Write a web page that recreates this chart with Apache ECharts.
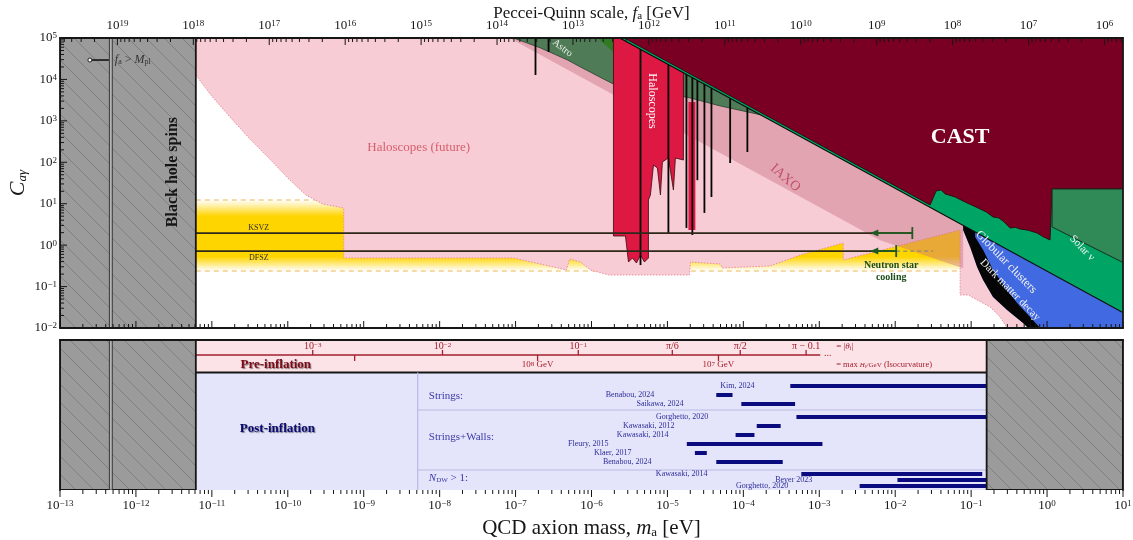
<!DOCTYPE html>
<html>
<head>
<meta charset="utf-8">
<title>QCD axion – photon coupling</title>
<script src="https://cdn.jsdelivr.net/npm/echarts@6.0.0/dist/echarts.min.js"></script>
<style>
  html, body { margin: 0; padding: 0; background: #ffffff; }
  #chart { width: 1133px; height: 540px; }
</style>
</head>
<body>
<div id="chart"></div>
<script>
// ---------------------------------------------------------------- axes
const massRange = [1e-13, 10];          // m_a [eV]
const couplingRange = [1e-2, 1e5];      // C_aγ
const rowRange = [0, 15];               // rows of the cosmology panel, top to bottom
const faTimesMass = 5.7e6;              // f_a [GeV] × m_a [eV]
const planckMass = 1.22e19;             // GeV

const massTickExponents = [-13, -12, -11, -10, -9, -8, -7, -6, -5, -4, -3, -2, -1, 0, 1];
const couplingTickExponents = [-2, -1, 0, 1, 2, 3, 4, 5];
const faTickExponents = [6, 7, 8, 9, 10, 11, 12, 13, 14, 15, 16, 17, 18, 19];

// ------------------------------------------------- upper panel (C_aγ vs m_a)
// Contours are listed as [log10 m_a/eV, log10 C_aγ].
const blackHoleSpinMaxMass = 6.15e-12;
const hotDarkMatterMinMass = 0.16;

const futureHaloscopes = [
  [-11.211, 5], [-0.303, 5], [-0.303, -2], [-0.526, -2], [-0.618, -1.734], [-0.75, -1.493],
  [-1.039, -1.203], [-1.145, -1.203], [-1.145, 0.366], [-2.684, -0.358], [-2.684, 0.052],
  [-3.25, -0.238], [-3.645, -0.503], [-4.276, -0.551], [-4.303, -0.455], [-4.697, -0.407],
  [-4.711, -0.72], [-5.776, -0.72], [-6.013, -0.6], [-6.145, -0.407], [-6.289, -0.334],
  [-6.329, -0.6], [-7.026, -0.31], [-9.263, -0.31], [-9.263, 0.897], [-9.539, 0.993],
  [-9.763, 1.21], [-10.0, 1.621], [-10.224, 2.055], [-10.487, 2.538], [-10.75, 3.069],
  [-11.013, 3.624], [-11.211, 4.107]
];

const qcdBandMass = [6.15e-12, 0.083];
const qcdBandCoupling = [0.238, 12.3];
const ksvzCoupling = 1.96;
const dfszCoupling = 0.72;
const ksvzStarLimit = 0.0168;
const dfszStarLimit = 0.0103;
const starArrowEnd = 4.7e-3;
const dfszDashedEnd = 0.0316;

const iaxo = [[-7.08, 5], [-2.2, 0.12], [-1.118, -0.551], [-1.105, -0.551], [-1.105, 0.476], [-5.629, 5]];

const astro = [
  [-7.026, 5], [-5.629, 5], [-3.776, 3.147], [-4.303, 3.359], [-4.697, 3.552], [-5.224, 3.745],
  [-5.711, 3.89], [-5.816, 3.986], [-6.145, 4.3], [-6.316, 4.469], [-6.671, 4.759]
];
const astroExtra = [[-5.921, 5], [-5.711, 5], [-5.711, 4.662]];

const haloscopes = [
  [-5.711, 5], [-4.789, 5], [-4.789, 2.055], [-4.895, 2.104], [-4.921, 1.331], [-4.987, 2.104],
  [-5.066, 2.007], [-5.092, 1.211], [-5.132, 1.862], [-5.184, 1.935], [-5.224, 1.211],
  [-5.25, 1.09], [-5.25, -0.31], [-5.303, -0.407], [-5.355, -0.238], [-5.408, -0.431],
  [-5.461, -0.31], [-5.513, -0.407], [-5.553, 0.221], [-5.711, 0.221]
];
const haloscopeColumn = [[-4.724, 3.455], [-4.632, 3.455], [-4.632, 0.366], [-4.724, 0.366]];

// narrow resonant exclusions: [m_a, lowest C_aγ reached]
const spikeMass = [1.83e-7, 2.72e-7, 4.42e-6, 1.03e-5, 1.78e-5, 2.13e-5, 2.48e-5, 3.07e-5, 3.8e-5, 6.7e-5, 1.13e-4, 2.72, 3.98, 5.3];
const spikeFloor = [1.28e4, 4.6e4, 0.33, 1.96, 2.6, 1.76, 37, 6.0, 14.5, 96, 177, 0.01, 0.01, 0.01];

const globularClusters = [[-5.629, 5], [1.013, 5], [1.013, -1.642]];
const cast = [
  [-5.569, 5], [-1.54, 0.971], [-1.461, 1.307], [-1.395, 1.331], [-1.342, 1.235], [-1.211, 1.162],
  [-1.053, 1.017], [-0.96, 0.94], [-0.882, 0.873], [-0.80, 0.80], [-0.711, 0.679], [-0.64, 0.66],
  [-0.579, 0.583], [-0.487, 0.414], [-0.42, 0.43], [-0.355, 0.39], [-0.25, 0.36], [-0.132, 0.293],
  [-0.05, 0.2], [0.039, 0.124], [0.066, 1.355], [1.013, 1.355], [1.013, 5]
];
const solarNu = [[0.066, 1.355], [1.013, 1.355], [1.013, -0.431], [0.066, 0.438]];
const darkMatterDecay = [
  [-1.105, 0.476], [1.013, -1.642], [1.013, -2], [-0.25, -2], [-0.316, -1.879], [-0.526, -1.565],
  [-0.711, -1.251], [-0.842, -0.841], [-0.921, -0.527], [-1.013, -0.045], [-1.105, 0.366]
];
const darkMatterEdge = [
  [-1.105, 0.476], [-1.105, 0.366], [-1.013, -0.045], [-0.921, -0.527], [-0.842, -0.841],
  [-0.711, -1.251], [-0.526, -1.565], [-0.316, -1.879], [-0.25, -2], [-0.092, -2], [-0.224, -1.734],
  [-0.395, -1.396], [-0.526, -1.083], [-0.711, -0.6], [-0.842, -0.117], [-0.947, 0.197], [-0.947, 0.318]
];

// ---------------------------------------------- lower panel (cosmology)
const preInflationRows = [0, 3.25];
const postInflationRows = [3.25, 15];
const thetaMass = [2.13e-10, 1.09e-8, 6.7e-7, 1.16e-5, 9.1e-5, 6.7e-4];
const thetaLabels = ['10{s|−3}', '10{s|−2}', '10{s|−1}', 'π/6', 'π/2', 'π − 0.1'];
const hubbleMass = [7.6e-10, 1.95e-7, 4.7e-5];
const hubbleLabels = ['', '10{s|8} GeV', '10{s|7} GeV'];
const thetaAxisEnd = 1.03e-3;
const rulerNoteMass = 1.67e-3;

const groupNames = ['Strings:', 'Strings+Walls:', '{i|N}{sub|DW} > 1:'];
const groupRows = [5.6, 9.7, 13.8];
const groupDividerRows = [7.0, 13.0];
const groupColumnMass = 5.14e-9;

const simNames = ['Kim, 2024', 'Benabou, 2024', 'Saikawa, 2024', 'Gorghetto, 2020', 'Kawasaki, 2012',
  'Kawasaki, 2014', 'Fleury, 2015', 'Klaer, 2017', 'Benabou, 2024', 'Kawasaki, 2014', 'Beyer 2023', 'Gorghetto, 2020'];
const simRows = [4.6, 5.5, 6.4, 7.7, 8.6, 9.5, 10.4, 11.3, 12.2, 13.4, 14.0, 14.6];
const simLow = [4.15e-4, 4.4e-5, 9.4e-5, 5.0e-4, 1.5e-4, 7.9e-5, 1.8e-5, 2.3e-5, 4.4e-5, 5.8e-4, 1.07e-2, 3.4e-3];
const simHigh = [0.16, 7.2e-5, 4.8e-4, 0.16, 3.1e-4, 1.4e-4, 1.1e-3, 3.3e-5, 3.3e-4, 0.14, 0.16, 0.16];
const simLabelAt = [1.4e-4, 6.7e-6, 1.63e-5, 3.46e-5, 1.24e-5, 1.03e-5, 1.67e-6, 3.36e-6, 6.15e-6, 3.36e-5, 8.1e-4, 3.9e-4];

// ---------------------------------------------------------------- style
const SERIF = '"Liberation Serif", "DejaVu Serif", serif';
const INK = '#161616';

const pow10 = p => [Math.pow(10, p[0]), Math.pow(10, p[1])];

function hatchPattern() {
  const s = 18;
  const c = document.createElement('canvas');
  c.width = s; c.height = s;
  const g = c.getContext('2d');
  g.fillStyle = '#9b9b9b';
  g.fillRect(0, 0, s, s);
  g.strokeStyle = '#777777';
  g.lineWidth = 0.8;
  g.beginPath();
  for (const o of [-s, 0, s]) { g.moveTo(o, 0); g.lineTo(o + s, s); }
  g.stroke();
  return { image: c, repeat: 'repeat' };
}
const HATCH = hatchPattern();

function axesFor(grid) {
  return grid === 0 ? { xAxisIndex: 0, yAxisIndex: 0 } : { xAxisIndex: 2, yAxisIndex: 2 };
}

// a filled outline drawn through the axes of one panel
function region(id, grid, z, points, style) {
  return Object.assign({
    id, type: 'custom', coordinateSystem: 'cartesian2d', z, silent: true, clip: true,
    data: [points[0]],
    renderItem: (params, api) => ({
      type: 'polygon',
      shape: { points: points.map(p => api.coord(p)) },
      style: Object.assign({}, style)
    })
  }, axesFor(grid));
}

// free drawing through the axes of one panel
function drawing(id, grid, z, build, clip) {
  return Object.assign({
    id, type: 'custom', coordinateSystem: 'cartesian2d', z, silent: true, clip: !!clip,
    data: [[1e-5, grid === 0 ? 1 : 5]],
    renderItem: (params, api) => ({ type: 'group', children: build(api) })
  }, axesFor(grid));
}

const seg = (a, b, style) => ({ type: 'line', shape: { x1: a[0], y1: a[1], x2: b[0], y2: b[1] }, style });
const label = (at, text, style, rotation) => ({
  type: 'text', x: at[0], y: at[1], rotation: rotation || 0,
  style: Object.assign({ text, fontFamily: SERIF, fill: INK, align: 'center', verticalAlign: 'middle' }, style)
});
const supRich = { s: { fontSize: 9, fontFamily: SERIF, verticalAlign: 'top', fill: INK } };
const decadeText = e => '10{s|' + (e < 0 ? '−' + (-e) : e) + '}';

// --------------------------------------------------------- upper panel
const upperBlackHole = region('bhTop', 0, 30, [[massRange[0], couplingRange[0]], [blackHoleSpinMaxMass, couplingRange[0]],
  [blackHoleSpinMaxMass, couplingRange[1]], [massRange[0], couplingRange[1]]], { fill: HATCH, stroke: INK, lineWidth: 1.8 });

const planckLine = grid => drawing('planck' + grid, grid, 31, api => {
  const m = faTimesMass / planckMass;
  const yr = grid === 0 ? couplingRange : rowRange;
  const a = api.coord([m / 1.045, yr[0]]), b = api.coord([m * 1.045, yr[1]]);
  return [{ type: 'rect', shape: { x: a[0], y: Math.min(a[1], b[1]), width: b[0] - a[0], height: Math.abs(b[1] - a[1]) },
    style: { fill: '#b4b4b4', stroke: '#2b2b2b', lineWidth: 0.9 } }];
}, true);

const bandSeries = drawing('qcdBand', 0, 2, api => {
  const a = api.coord([qcdBandMass[0], qcdBandCoupling[1]]);
  const b = api.coord([qcdBandMass[1], qcdBandCoupling[0]]);
  const grad = new echarts.graphic.LinearGradient(0, 0, 0, 1, [
    { offset: 0, color: 'rgba(255,212,0,0)' }, { offset: 0.23, color: '#ffd500' },
    { offset: 0.8, color: '#ffd500' }, { offset: 1, color: 'rgba(255,212,0,0)' }]);
  const dash = { stroke: '#f3cf8c', lineWidth: 1.4, lineDash: [5, 4] };
  return [
    { type: 'rect', shape: { x: a[0], y: a[1], width: b[0] - a[0], height: b[1] - a[1] }, style: { fill: grad } },
    seg([a[0], a[1]], [b[0], a[1]], dash),
    seg([a[0], b[1]], [b[0], b[1]], dash)
  ];
}, true);

const pinkSeries = region('futureHaloscopes', 0, 3, futureHaloscopes.map(pow10),
  { fill: '#f7ccd5', stroke: '#ec8c9e', lineWidth: 1, lineDash: [1.5, 1.5], blend: 'multiply' });
const iaxoSeries = region('iaxo', 0, 4, iaxo.map(pow10), { fill: 'rgba(200,110,130,0.42)' });
const astroSeries = region('astro', 0, 5, astro.map(pow10), { fill: '#4f7b56', stroke: '#24402a', lineWidth: 0.8 });
const astroExtraSeries = region('astroExtra', 0, 5, astroExtra.map(pow10), { fill: '#2f7a22' });
const haloSeries = region('haloscopes', 0, 6, haloscopes.map(pow10), { fill: '#dc1843', stroke: '#3a0a10', lineWidth: 0.8 });
const haloColumnSeries = region('haloscopeColumn', 0, 6, haloscopeColumn.map(pow10), { fill: '#dc1843' });

const spikeSeries = drawing('spikes', 0, 7, api => spikeMass.map((m, i) =>
  seg(api.coord([m, couplingRange[1]]), api.coord([m, spikeFloor[i]]), { stroke: '#050505', lineWidth: 1.8 })), true);

const gcSeries = region('globularClusters', 0, 8, globularClusters.map(pow10), { fill: '#00a566' });
const gcEdge = drawing('gcEdge', 0, 12, api => [seg(api.coord(pow10(globularClusters[0])), api.coord(pow10(globularClusters[2])),
  { stroke: '#0a0a0a', lineWidth: 1.1 })], true);
const castSeries = region('cast', 0, 9, cast.map(pow10), { fill: '#7a0023', stroke: '#2a0008', lineWidth: 0.8 });
const solarSeries = region('solar', 0, 10, solarNu.map(pow10), { fill: '#2f8a57', stroke: '#14301e', lineWidth: 1 });
const dmSeries = region('dmDecay', 0, 10, darkMatterDecay.map(pow10), { fill: '#4169e1' });
const dmEdgeSeries = region('dmEdge', 0, 11, darkMatterEdge.map(pow10), { fill: '#050505' });

const qcdLines = drawing('qcdLines', 0, 13, api => {
  const line = { stroke: '#2e2818', lineWidth: 1.8 };
  const green = { stroke: '#1f5a1f', lineWidth: 1.8 };
  const out = [
    seg(api.coord([qcdBandMass[0], ksvzCoupling]), api.coord([ksvzStarLimit, ksvzCoupling]), line),
    seg(api.coord([qcdBandMass[0], dfszCoupling]), api.coord([dfszStarLimit, dfszCoupling]), line),
    seg(api.coord([dfszStarLimit, dfszCoupling]), api.coord([dfszDashedEnd, dfszCoupling]), { stroke: '#8d8a70', lineWidth: 1.2, lineDash: [4, 3] })
  ];
  [[ksvzStarLimit, ksvzCoupling], [dfszStarLimit, dfszCoupling]].forEach(([m, c]) => {
    const p = api.coord([m, c]), q = api.coord([starArrowEnd, c]);
    out.push(seg([p[0], p[1] - 6], [p[0], p[1] + 6], green));
    out.push(seg(p, [q[0] + 6, q[1]], green));
    out.push({ type: 'polygon', shape: { points: [[q[0], q[1]], [q[0] + 8, q[1] - 3.5], [q[0] + 8, q[1] + 3.5]] }, style: { fill: '#1f5a1f' } });
  });
  return out;
}, true);

const upperText = drawing('upperText', 0, 40, api => {
  const c = (m, v) => api.coord([m, v]);
  const white = '#ffffff';
  const pl = c(faTimesMass / planckMass, 2.94e4);
  const tail = c(2.33e-13, 2.94e4);
  return [
    label(c(0.0716, 407), 'CAST', { fontSize: 22, fontWeight: 'bold', fill: white }),
    label(c(5.3e-9, 221), 'Haloscopes (future)', { fontSize: 13, fill: '#d4606f' }),
    label(c(3.57e-4, 41.8), 'IAXO', { fontSize: 14, fill: '#c24f66' }, -0.72),
    label(c(6.35e-6, 3010), 'Haloscopes', { fontSize: 12, fill: white }, -Math.PI / 2),
    label(c(4.15e-7, 5.7e4), 'Astro', { fontSize: 10, fill: '#eef2ee' }, -0.65),
    label(c(0.289, 0.39), 'Globular clusters', { fontSize: 12, fill: '#f2f2f2' }, -0.8),
    label(c(0.326, 0.083), 'Dark matter decay', { fontSize: 11, fill: '#f2f2f2' }, -0.8),
    label(c(2.89, 0.85), 'Solar ν', { fontSize: 11, fill: '#f2f2f2' }, -0.8),
    label(c(8.85e-3, 0.33), 'Neutron star', { fontSize: 10, fontWeight: 'bold', fill: '#1d4d1d' }),
    label(c(8.85e-3, 0.17), 'cooling', { fontSize: 10, fontWeight: 'bold', fill: '#1d4d1d' }),
    label(c(4.15e-11, 2.6), 'KSVZ', { fontSize: 8, fill: '#2a2a2a' }),
    label(c(4.15e-11, 0.49), 'DFSZ', { fontSize: 8, fill: '#2a2a2a' }),
    label(c(3.07e-12, 58), 'Black hole spins', { fontSize: 16, fontWeight: 'bold', fill: INK }, Math.PI / 2),
    label([pl[0] + 4, pl[1]], '{i|f}{sub|a} > {i|M}{sub|pl}', { fontSize: 12, fill: '#333', align: 'left',
      rich: { i: { fontStyle: 'italic', fontSize: 12, fontFamily: SERIF, fill: '#333' },
              sub: { fontSize: 8, fontFamily: SERIF, fill: '#333', verticalAlign: 'bottom' } } }),
    seg([pl[0] - 2, pl[1]], [tail[0] + 3, tail[1]], { stroke: '#222', lineWidth: 1.8 }),
    { type: 'circle', shape: { cx: tail[0] + 2, cy: tail[1], r: 2 }, style: { fill: '#fff', stroke: '#222', lineWidth: 1 } }
  ];
}, true);

// ticks and tick labels of the upper panel
const upperFrame = drawing('upperFrame', 0, 60, api => {
  const out = [];
  const tick = { stroke: INK, lineWidth: 1 };
  const yTop = api.coord([1, couplingRange[1]])[1];
  const yBot = api.coord([1, couplingRange[0]])[1];
  const xLeft = api.coord([massRange[0], 1])[0];
  const inMass = m => m >= massRange[0] * 0.999 && m <= massRange[1] * 1.001;
  massTickExponents.forEach(e => {
    for (let k = 1; k <= 9; k++) {
      const m = k * Math.pow(10, e);
      if (!inMass(m)) continue;
      const x = api.coord([m, 1])[0];
      out.push(seg([x, yBot], [x, yBot - (k === 1 ? 7 : 4)], tick));
    }
  });
  [5].concat(faTickExponents).forEach(e => {
    for (let k = 1; k <= 9; k++) {
      const f = k * Math.pow(10, e);
      const m = faTimesMass / f;
      if (!inMass(m)) continue;
      const x = api.coord([m, 1])[0];
      out.push(seg([x, yTop], [x, yTop + (k === 1 ? 7 : 4)], tick));
      if (k === 1) out.push(label([x, yTop - 12], decadeText(e), { fontSize: 13, rich: supRich }));
    }
  });
  couplingTickExponents.forEach(e => {
    for (let k = 1; k <= 9; k++) {
      const v = k * Math.pow(10, e);
      if (v > couplingRange[1] * 1.001) continue;
      const y = api.coord([1, v])[1];
      out.push(seg([xLeft, y], [xLeft + (k === 1 ? 7 : 4), y], tick));
      if (k === 1) out.push(label([xLeft - 3, y], decadeText(e), { fontSize: 13, align: 'right', rich: supRich }));
    }
  });
  return out;
});

// --------------------------------------------------------- lower panel
const lowerBlackHole = region('bhLow', 1, 30, [[massRange[0], rowRange[0]], [blackHoleSpinMaxMass, rowRange[0]],
  [blackHoleSpinMaxMass, rowRange[1]], [massRange[0], rowRange[1]]], { fill: HATCH, stroke: INK, lineWidth: 1.8 });
const hotDarkMatter = region('hdm', 1, 30, [[hotDarkMatterMinMass, rowRange[0]], [massRange[1], rowRange[0]],
  [massRange[1], rowRange[1]], [hotDarkMatterMinMass, rowRange[1]]], { fill: HATCH, stroke: INK, lineWidth: 1.8 });
const preSeries = region('pre', 1, 2, [[blackHoleSpinMaxMass, preInflationRows[0]], [hotDarkMatterMinMass, preInflationRows[0]],
  [hotDarkMatterMinMass, preInflationRows[1]], [blackHoleSpinMaxMass, preInflationRows[1]]], { fill: '#fce3e7' });
const postSeries = region('post', 1, 2, [[blackHoleSpinMaxMass, postInflationRows[0]], [hotDarkMatterMinMass, postInflationRows[0]],
  [hotDarkMatterMinMass, postInflationRows[1]], [blackHoleSpinMaxMass, postInflationRows[1]]], { fill: '#e4e4fa' });

const cosmology = drawing('cosmology', 1, 20, api => {
  const c = (m, r) => api.coord([m, r]);
  const out = [];
  const red = '#a3202f';
  const redRich = { s: { fontSize: 7, fontFamily: SERIF, verticalAlign: 'top', fill: red } };
  // initial misalignment angle / inflation scale ruler
  out.push(seg(c(blackHoleSpinMaxMass, 1.5), c(thetaAxisEnd, 1.5), { stroke: red, lineWidth: 1.5 }));
  thetaMass.forEach((m, i) => {
    out.push(seg(c(m, 1.5), c(m, 1.0), { stroke: red, lineWidth: 1.3 }));
    out.push(label(c(m, 0.65), thetaLabels[i], { fontSize: 10, fill: red, rich: redRich }));
  });
  hubbleMass.forEach((m, i) => {
    out.push(seg(c(m, 1.5), c(m, 2.1), { stroke: red, lineWidth: 1.3 }));
    if (hubbleLabels[i]) out.push(label(c(m, 2.5), hubbleLabels[i], { fontSize: 9, fill: red, rich: redRich }));
  });
  out.push(label(c(thetaAxisEnd * 1.12, 1.3), '...', { fontSize: 10, fill: red, align: 'left' }));
  out.push(label(c(rulerNoteMass, 0.65), '= |{i|θ}{sub|i}|', { fontSize: 9, fill: red, align: 'left',
    rich: { i: { fontStyle: 'italic', fontSize: 9, fontFamily: SERIF, fill: red }, sub: { fontSize: 6, fontFamily: SERIF, fill: red, verticalAlign: 'bottom' } } }));
  out.push(label(c(rulerNoteMass, 2.5), '= max {f|H}{f2|I}{g|/GeV} (Isocurvature)', { fontSize: 8.5, fill: red, align: 'left',
    rich: { f: { fontSize: 7, fontStyle: 'italic', fontFamily: SERIF, fill: red }, f2: { fontSize: 5, fontFamily: SERIF, fill: red, verticalAlign: 'bottom' },
            g: { fontSize: 7, fontFamily: SERIF, fill: red } } }));
  out.push(label(c(6.95e-11, 2.5), 'Pre-inflation', { fontSize: 13, fontWeight: 'bold', fill: '#7a0b18',
    textShadowColor: 'rgba(0,0,0,0.45)', textShadowOffsetX: 1, textShadowOffsetY: 1, textShadowBlur: 1 }));
  out.push(label(c(7.3e-11, 8.9), 'Post-inflation', { fontSize: 13, fontWeight: 'bold', fill: '#0b0b72',
    textShadowColor: 'rgba(0,0,0,0.45)', textShadowOffsetX: 1, textShadowOffsetY: 1, textShadowBlur: 1 }));
  // boundary between the two scenarios
  out.push(seg(c(blackHoleSpinMaxMass, preInflationRows[1]), c(hotDarkMatterMinMass, preInflationRows[1]), { stroke: INK, lineWidth: 2 }));
  // simulation groups
  const soft = { stroke: '#b9b9e6', lineWidth: 1.2 };
  out.push(seg(c(groupColumnMass, postInflationRows[0]), c(groupColumnMass, rowRange[1]), soft));
  groupDividerRows.forEach(r => out.push(seg(c(groupColumnMass, r), c(hotDarkMatterMinMass, r), soft)));
  const blue = '#3a3aa8';
  groupNames.forEach((g, i) => out.push(label(c(groupColumnMass * 1.4, groupRows[i]), g, { fontSize: 11, fill: blue, align: 'left',
    rich: { i: { fontStyle: 'italic', fontSize: 11, fontFamily: SERIF, fill: blue }, sub: { fontSize: 7, fontFamily: SERIF, fill: blue, verticalAlign: 'bottom' } } })));
  simNames.forEach((n, i) => {
    const a = c(simLow[i], simRows[i]), b = c(simHigh[i], simRows[i]);
    out.push({ type: 'rect', shape: { x: a[0], y: a[1] - 2, width: b[0] - a[0], height: 4 }, style: { fill: '#0b0b80' } });
    out.push(label(c(simLabelAt[i], simRows[i] - 0.05), n, { fontSize: 8, fill: '#2d2d9a', align: 'right' }));
  });
  // labels on the excluded strips
  out.push(label(c(2.48e-12, 7.6), 'Black hole spins', { fontSize: 12, fontWeight: 'bold', fill: INK }, Math.PI / 2));
  const hx = 1.31;
  out.push(label(c(hx, 4.4), 'Hot dark', { fontSize: 13, fontWeight: 'bold' }));
  out.push(label(c(hx, 6.0), 'matter', { fontSize: 13, fontWeight: 'bold' }));
  out.push(label(c(hx, 7.5), '+', { fontSize: 12, fontWeight: 'bold' }));
  out.push(label(c(hx, 9.0), 'Δ{i|N}{sub|eff}', { fontSize: 12,
    rich: { i: { fontStyle: 'italic', fontSize: 12, fontFamily: SERIF, fill: INK }, sub: { fontSize: 7, fontFamily: SERIF, fill: INK, verticalAlign: 'bottom' } } }));
  return out;
}, true);

const lowerFrame = drawing('lowerFrame', 1, 60, api => {
  const out = [];
  const tick = { stroke: INK, lineWidth: 1 };
  const yBot = api.coord([1, rowRange[1]])[1];
  massTickExponents.forEach(e => {
    for (let k = 1; k <= 9; k++) {
      const m = k * Math.pow(10, e);
      if (m > massRange[1] * 1.001) continue;
      const x = api.coord([m, 1])[0];
      out.push(seg([x, yBot], [x, yBot + (k === 1 ? 7 : 4)], tick));
      if (k === 1) out.push(label([x, yBot + 16], decadeText(e), { fontSize: 13, rich: supRich }));
    }
  });
  return out;
});

// ---------------------------------------------------------------- axes
const frameLine = { show: true, lineStyle: { color: INK, width: 1.8 } };
const bare = { axisLabel: { show: false }, axisTick: { show: false }, splitLine: { show: false }, axisLine: frameLine, z: 50 };

const option = {
  animation: false,
  backgroundColor: '#ffffff',
  textStyle: { fontFamily: SERIF },
  grid: [
    { left: 60, top: 38, width: 1063, height: 290, outerBoundsMode: 'none', containLabel: false },
    { left: 60, top: 340, width: 1063, height: 150, outerBoundsMode: 'none', containLabel: false }
  ],
  xAxis: [
    Object.assign({ type: 'log', gridIndex: 0, position: 'bottom', min: massRange[0], max: massRange[1] }, bare),
    Object.assign({ type: 'log', gridIndex: 0, position: 'top', inverse: true,
      min: faTimesMass / massRange[1], max: faTimesMass / massRange[0],
      name: 'Peccei-Quinn scale, {i|f}{sub|a} [GeV]', nameLocation: 'middle', nameGap: 16,
      nameTextStyle: { fontSize: 17, fontFamily: SERIF, color: INK,
        rich: { i: { fontStyle: 'italic', fontSize: 17, fontFamily: SERIF, color: INK }, sub: { fontSize: 11, fontFamily: SERIF, color: INK, verticalAlign: 'bottom' } } } }, bare),
    Object.assign({ type: 'log', gridIndex: 1, position: 'bottom', min: massRange[0], max: massRange[1],
      name: 'QCD axion mass, {i|m}{sub|a} [eV]', nameLocation: 'middle', nameGap: 28,
      nameTextStyle: { fontSize: 21, fontFamily: SERIF, color: INK,
        rich: { i: { fontStyle: 'italic', fontSize: 21, fontFamily: SERIF, color: INK }, sub: { fontSize: 13, fontFamily: SERIF, color: INK, verticalAlign: 'bottom' } } } }, bare),
    Object.assign({ type: 'log', gridIndex: 1, position: 'top', min: massRange[0], max: massRange[1] }, bare)
  ],
  yAxis: [
    Object.assign({ type: 'log', gridIndex: 0, position: 'left', min: couplingRange[0], max: couplingRange[1],
      name: '{i|C}{sub|aγ}', nameLocation: 'middle', nameGap: 31, nameRotate: 90,
      nameTextStyle: { fontSize: 22, fontFamily: SERIF, color: INK,
        rich: { i: { fontStyle: 'italic', fontSize: 22, fontFamily: SERIF, color: INK }, sub: { fontSize: 13, fontStyle: 'italic', fontFamily: SERIF, color: INK, verticalAlign: 'bottom' } } } }, bare),
    Object.assign({ type: 'log', gridIndex: 0, position: 'right', min: couplingRange[0], max: couplingRange[1] }, bare),
    Object.assign({ type: 'value', gridIndex: 1, position: 'left', inverse: true, min: rowRange[0], max: rowRange[1] }, bare),
    Object.assign({ type: 'value', gridIndex: 1, position: 'right', inverse: true, min: rowRange[0], max: rowRange[1] }, bare)
  ],
  series: [
    bandSeries, pinkSeries, iaxoSeries, astroSeries, astroExtraSeries, haloSeries, haloColumnSeries, spikeSeries,
    gcSeries, castSeries, solarSeries, dmSeries, dmEdgeSeries, gcEdge, qcdLines,
    upperBlackHole, planckLine(0), upperText, upperFrame,
    preSeries, postSeries, cosmology, lowerBlackHole, hotDarkMatter, planckLine(1), lowerFrame
  ]
};

const chart = echarts.init(document.getElementById('chart'), null, { renderer: 'canvas' });
chart.setOption(option);
</script>
</body>
</html>
